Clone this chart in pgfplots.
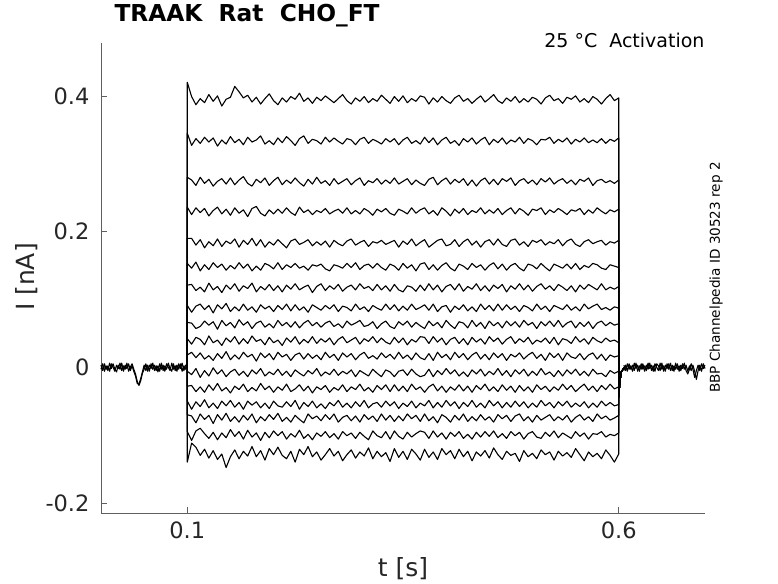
\documentclass[border=0pt]{standalone}
\usepackage{fontspec}
\setmainfont{DejaVu Sans}
\usepackage{pgfplots}
\usepackage{pgfplotstable}
\pgfplotsset{compat=1.18}
\definecolor{axgray}{RGB}{95,95,95}
\definecolor{txtgray}{RGB}{38,38,38}

% current (pA) during the step, 17 sweeps
\pgfplotstableread{
t a b c d e f g h i j k l m n o p q
0.100 0 0 0 0 0 0 0 0 0 0 0 0 0 0 0 0 0
0.100 420 345 280 236 190 153 121 91 66 42 18 -6 -28 -50 -70 -95 -140
0.105 399 327 276 225 190 146 122 81 65 34 22 -11 -27 -62 -72 -108 -112
0.110 387 337 268 235 180 155 113 90 57 44 14 -2 -36 -51 -82 -94 -118
0.115 396 330 280 228 188 142 118 93 60 41 21 -15 -29 -58 -69 -90 -130
0.120 390 339 271 234 176 151 111 85 68 33 12 -5 -37 -48 -77 -98 -121
0.125 402 332 277 223 185 144 124 91 62 46 17 -13 -26 -60 -71 -105 -134
0.130 392 338 267 231 179 154 114 80 67 36 10 -1 -34 -53 -83 -96 -123
0.135 400 326 274 236 189 147 119 92 56 40 20 -10 -24 -61 -70 -107 -136
0.140 385 335 278 226 178 152 110 86 69 32 13 -4 -35 -50 -78 -97 -128
0.145 395 329 270 233 186 143 121 94 61 43 23 -14 -30 -57 -68 -104 -148
0.150 398 340 279 224 182 150 115 82 66 37 11 -7 -38 -49 -80 -92 -132
0.155 414 331 269 235 189 145 123 89 58 45 18 -3 -28 -59 -73 -102 -122
0.160 406 336 276 227 177 154 112 83 70 34 12 -12 -33 -52 -81 -95 -135
0.165 397 328 281 232 187 146 120 93 62 42 22 -6 -25 -62 -71 -106 -124
0.170 401 339 271 222 181 152 116 84 67 35 15 -14 -36 -50 -78 -93 -131
0.175 391 332 267 234 190 142 124 89 57 46 19 -4 -30 -56 -69 -103 -117
0.180 398 335 277 237 179 149 111 81 65 38 9 -10 -35 -51 -82 -97 -132
0.185 388 341 272 227 188 143 119 92 68 41 21 -2 -24 -60 -73 -108 -123
0.190 396 329 279 223 177 153 114 86 59 33 14 -13 -33 -53 -79 -96 -137
0.195 403 334 268 232 185 150 122 90 64 44 20 -7 -28 -61 -70 -104 -120
0.200 393 328 275 226 180 145 113 82 58 36 11 -11 -37 -50 -77 -94 -129
0.205 387 338 280 233 188 154 120 91 69 40 22 -3 -29 -57 -68 -101 -118
0.210 397 331 269 227 182 144 111 85 61 32 15 -12 -34 -59 -80 -95 -130
0.215 391 340 276 235 176 151 121 93 66 43 19 -6 -25 -51 -74 -106 -135
0.220 399 334 271 228 186 147 115 83 59 37 10 -14 -36 -58 -81 -98 -124
0.225 395 327 279 224 189 153 123 92 67 45 18 -4 -32 -49 -71 -103 -140
0.230 404 337 272 236 181 146 114 84 58 34 21 -9 -26 -62 -77 -93 -121
0.235 392 341 267 228 184 149 118 89 65 41 12 -13 -35 -52 -82 -105 -129
0.240 397 330 277 232 188 143 121 81 69 36 20 -5 -28 -58 -69 -99 -117
0.245 389 336 270 225 179 151 110 92 61 45 13 -10 -38 -50 -76 -107 -132
0.250 398 334 280 231 185 149 119 88 66 35 18 -2 -29 -60 -72 -97 -125
0.255 393 329 271 228 180 152 123 84 59 42 11 -13 -33 -54 -79 -102 -137
0.260 400 339 275 234 186 145 113 91 65 37 22 -7 -27 -61 -70 -95 -129
0.265 395 332 268 226 177 142 120 86 68 43 14 -11 -37 -52 -77 -104 -120
0.270 390 338 278 230 187 151 115 92 60 33 19 -3 -30 -57 -69 -98 -131
0.275 396 333 270 233 182 149 122 82 64 41 10 -12 -34 -49 -81 -106 -124
0.280 402 329 274 227 179 146 112 90 58 45 21 -6 -26 -59 -74 -95 -138
0.285 393 337 278 235 186 153 118 88 68 36 15 -10 -36 -53 -71 -101 -129
0.290 388 335 269 226 189 147 121 83 62 40 20 -4 -29 -60 -79 -97 -122
0.295 397 328 275 231 180 154 114 93 65 44 11 -14 -33 -51 -72 -105 -134
0.300 392 336 279 226 184 144 123 85 69 34 18 -5 -25 -58 -81 -96 -125
0.305 399 339 268 234 187 150 116 89 60 42 22 -9 -35 -49 -70 -102 -131
0.310 390 330 275 230 178 152 119 82 62 38 13 -13 -30 -60 -77 -107 -119
0.315 396 336 272 224 185 146 113 91 67 45 17 -3 -37 -54 -72 -94 -135
0.320 392 333 278 233 183 153 122 87 57 36 12 -9 -27 -52 -80 -101 -124
0.325 401 329 270 229 187 147 114 84 64 43 21 -14 -33 -59 -69 -104 -132
0.330 395 337 276 234 181 143 120 93 68 37 14 -4 -26 -50 -78 -95 -126
0.335 389 332 271 227 184 152 112 85 60 34 19 -7 -36 -57 -71 -106 -139
0.340 399 337 279 224 187 149 122 92 57 44 12 -14 -26 -51 -80 -94 -120
0.345 392 328 270 233 177 143 114 83 67 36 22 -6 -35 -61 -72 -102 -133
0.350 400 335 274 230 186 153 111 90 62 43 13 -4 -28 -53 -79 -106 -124
0.355 390 339 278 226 181 146 120 84 68 33 18 -12 -36 -58 -69 -96 -136
0.360 396 330 269 235 189 151 118 93 59 41 11 -3 -25 -50 -76 -103 -121
0.365 392 334 276 227 179 142 112 85 66 37 21 -10 -33 -60 -71 -98 -128
0.370 400 329 271 232 184 152 121 88 61 45 14 -14 -29 -53 -80 -94 -137
0.375 398 339 268 235 188 154 113 92 57 44 11 -12 -37 -57 -69 -96 -121
0.380 388 331 277 226 177 144 123 84 68 35 20 -3 -29 -49 -79 -105 -133
0.385 397 338 280 231 182 151 114 93 61 45 10 -14 -25 -60 -73 -94 -125
0.390 391 328 269 224 187 143 121 82 66 37 22 -5 -35 -52 -82 -103 -136
0.395 399 335 275 235 189 150 111 89 58 43 14 -11 -28 -59 -70 -97 -120
0.400 393 339 279 230 179 154 119 91 69 33 19 -2 -37 -49 -74 -106 -129
0.405 389 330 270 223 181 146 122 81 62 41 11 -10 -29 -57 -81 -96 -123
0.410 397 334 277 233 188 142 114 90 57 44 22 -4 -34 -51 -71 -102 -135
0.415 401 327 272 227 178 152 123 85 67 35 14 -13 -26 -61 -78 -95 -121
0.420 392 337 278 234 185 149 112 92 65 42 20 -7 -35 -52 -69 -105 -132
0.425 396 332 268 225 189 144 119 83 58 33 11 -14 -28 -58 -80 -99 -124
0.430 389 338 276 231 180 153 115 89 69 44 18 -4 -37 -49 -73 -106 -138
0.435 395 329 267 228 186 147 123 82 60 37 22 -10 -27 -59 -79 -96 -125
0.440 400 335 275 235 177 151 113 93 66 42 12 -3 -33 -53 -70 -103 -131
0.445 391 339 279 226 185 143 120 85 57 34 19 -13 -25 -60 -78 -95 -123
0.450 396 328 270 232 188 150 112 91 68 45 11 -6 -35 -49 -73 -102 -134
0.455 402 336 277 227 180 154 121 83 61 38 21 -11 -29 -57 -81 -94 -119
0.460 393 331 269 234 189 145 116 93 66 43 14 -2 -36 -51 -70 -104 -129
0.465 389 338 278 225 181 152 122 84 58 34 20 -12 -26 -60 -76 -98 -136
0.470 397 329 274 231 178 143 111 92 68 41 10 -5 -34 -52 -71 -105 -124
0.475 392 335 279 235 187 150 120 85 61 45 19 -14 -28 -59 -80 -95 -130
0.480 399 332 268 226 189 153 115 90 67 35 15 -4 -37 -50 -72 -101 -127
0.485 390 339 275 234 180 146 123 82 59 42 21 -10 -27 -58 -69 -96 -139
0.490 396 330 278 230 185 142 114 91 69 37 12 -3 -35 -51 -79 -106 -123
0.495 391 337 271 224 178 152 121 88 62 44 18 -13 -29 -60 -73 -98 -132
0.500 398 334 276 233 187 150 112 83 66 34 22 -6 -37 -53 -81 -95 -127
0.505 395 328 269 231 184 145 119 93 57 40 13 -12 -26 -59 -71 -103 -135
0.510 388 336 278 235 188 153 123 85 67 37 19 -2 -33 -49 -78 -105 -122
0.515 397 335 273 225 180 147 115 90 61 43 10 -11 -28 -57 -74 -96 -129
0.520 401 339 279 232 185 142 120 82 68 35 21 -7 -36 -52 -70 -102 -125
0.525 393 330 270 228 182 152 113 91 60 44 14 -14 -29 -60 -79 -94 -137
0.530 396 336 275 234 188 149 122 88 69 33 20 -5 -34 -51 -73 -104 -124
0.535 389 332 278 230 179 146 118 85 59 42 10 -13 -25 -57 -78 -97 -131
0.540 398 338 271 225 186 152 113 92 65 40 21 -4 -33 -50 -71 -101 -126
0.545 395 329 276 232 189 145 120 84 68 35 15 -10 -27 -59 -81 -105 -133
0.550 400 336 269 230 181 153 111 89 58 45 13 -3 -36 -53 -74 -95 -120
0.555 391 332 277 234 178 144 121 83 66 37 20 -12 -30 -58 -70 -102 -129
0.560 396 338 274 225 185 150 115 93 60 42 11 -6 -25 -51 -78 -97 -138
0.565 390 331 279 232 188 147 122 86 67 34 18 -13 -34 -60 -73 -106 -125
0.570 399 335 268 227 182 153 118 90 57 44 21 -3 -28 -53 -80 -98 -132
0.575 395 331 275 235 185 151 114 93 65 39 12 -10 -36 -59 -69 -99 -127
0.580 388 337 277 230 187 146 123 85 68 36 19 -9 -27 -50 -76 -95 -135
0.585 396 330 272 226 180 144 114 88 61 43 10 -14 -33 -57 -72 -103 -122
0.590 402 336 275 232 185 151 118 84 66 38 18 -5 -25 -52 -78 -99 -130
0.595 393 333 271 229 183 149 115 89 62 40 15 -9 -32 -57 -75 -101 -140
0.600 397 338 276 233 187 147 119 87 64 36 17 -6 -29 -55 -71 -97 -128
0.600 -44 -44 -44 -44 -44 -44 -44 -44 -44 -44 -44 -44 -44 -44 -44 -44 -44
0.6015 -20 -20 -20 -20 -20 -20 -20 -20 -20 -20 -20 -20 -20 -20 -20 -20 -20
0.603 -7 -7 -7 -7 -7 -7 -7 -7 -7 -7 -7 -7 -7 -7 -7 -7 -7
0.606 -1 -1 -1 -1 -1 -1 -1 -1 -1 -1 -1 -1 -1 -1 -1 -1 -1
}\steps

\begin{document}
\begin{tikzpicture}
\useasboundingbox (0,0) rectangle (778pt,583pt);
\begin{axis}[
  at={(101pt,70pt)}, anchor=south west,
  scale only axis, width=604pt, height=470pt,
  xmin=0, xmax=0.7, ymin=-215, ymax=478,
  axis x line=bottom, axis y line=left,
  axis line style={-, draw=axgray, line width=0.6pt},
  tick style={draw=axgray, line width=0.6pt},
  tick align=inside, major tick length=6pt,
  xtick={0.1,0.6}, xticklabels={0.1,0.6},
  ytick={-200,0,200,400}, yticklabels={-0.2,0,0.2,0.4},
  ticklabel style={font=\fontsize{22.5}{23}\selectfont, text=txtgray},
  yticklabel style={xshift=-8pt},
  xticklabel style={yshift=-5pt},
  xlabel={t [s]},
  xlabel style={at={(axis description cs:0.5,-0.119)}, anchor=center,
    font=\fontsize{25}{26}\selectfont, text=txtgray},
  ylabel={I [nA]},
  ylabel style={at={(axis description cs:-0.1225,0.502)}, anchor=center,
    font=\fontsize{25}{26}\selectfont, text=txtgray},
  title={TRAAK\ \ Rat\ \ CHO\_FT},
  title style={at={(axis description cs:0.0166,1.034)}, anchor=base west,
    font=\bfseries\fontsize{23.3}{24}\selectfont},
  clip=false,
  trace/.style={black, line width=1.1pt, mark=none, line join=round},
]
% baseline before the step
\addplot[trace] coordinates {(0,3)(0.002,-5)(0.004,5)(0.006,-3)(0.008,2)(0.01,-6)(0.012,5)(0.014,0)(0.016,-6)(0.018,3)(0.02,-2)(0.022,6)(0.024,-5)(0.026,2)(0.028,-3)(0.03,6)(0.032,-6)(0.034,0)(0.036,5)(0.038,-3)(0.04,-10)(0.042,-21)(0.044,-27)(0.046,-20)(0.048,-9)(0.05,-3)(0.052,5)(0.054,-6)(0.056,3)(0.058,-2)(0.06,6)(0.062,-5)(0.064,2)(0.066,-7)(0.068,5)(0.07,-3)(0.072,3)(0.074,-6)(0.076,5)(0.078,0)(0.08,-5)(0.082,6)(0.084,-3)(0.086,2)(0.088,-6)(0.09,5)(0.092,-2)(0.094,6)(0.096,-5)(0.098,3)(0.1,0)};
\addplot[trace] coordinates {(0,-3)(0.002,5)(0.004,-6)(0.006,2)(0.008,-5)(0.01,6)(0.012,-2)(0.014,5)(0.016,-3)(0.018,-7)(0.02,3)(0.022,-3)(0.024,6)(0.026,-6)(0.028,3)(0.03,-2)(0.032,5)(0.034,-5)(0.036,2)(0.038,-6)(0.04,-13)(0.042,-24)(0.044,-25)(0.046,-17)(0.048,-7)(0.05,3)(0.052,-5)(0.054,3)(0.056,-6)(0.058,5)(0.06,-3)(0.062,3)(0.064,-5)(0.066,2)(0.068,-6)(0.07,6)(0.072,-5)(0.074,2)(0.076,-3)(0.078,6)(0.08,-2)(0.082,-6)(0.084,5)(0.086,-5)(0.088,3)(0.09,-3)(0.092,5)(0.094,-6)(0.096,2)(0.098,-3)(0.1,5)};
% sweeps
\pgfplotsinvokeforeach{a,b,c,d,e,f,g,h,i,j,k,l,m,n,o,p,q}{
  \addplot[trace] table[x=t, y=#1] {\steps};
}
% baseline after the step
\addplot[trace] coordinates {(0.606,3)(0.608,-5)(0.61,5)(0.612,-3)(0.614,2)(0.616,-6)(0.618,6)(0.62,-2)(0.622,3)(0.624,-6)(0.626,5)(0.628,-3)(0.63,2)(0.632,-5)(0.634,6)(0.636,-2)(0.638,3)(0.64,-6)(0.642,5)(0.644,0)(0.646,-5)(0.648,6)(0.65,-3)(0.652,2)(0.654,-6)(0.656,5)(0.658,-3)(0.66,6)(0.662,-5)(0.664,2)(0.666,-3)(0.668,5)(0.67,-6)(0.672,3)(0.674,-2)(0.676,6)(0.678,-5)(0.68,-10)(0.682,-3)(0.684,5)(0.686,-3)(0.688,-15)(0.69,-5)(0.692,3)(0.694,-5)(0.696,5)(0.698,-2)(0.7,3)};
\addplot[trace] coordinates {(0.606,-5)(0.608,3)(0.61,-6)(0.612,5)(0.614,-3)(0.616,3)(0.618,-5)(0.62,6)(0.622,-6)(0.624,2)(0.626,-3)(0.628,5)(0.63,-6)(0.632,3)(0.634,-3)(0.636,6)(0.638,-5)(0.64,2)(0.642,-6)(0.644,5)(0.646,2)(0.648,-5)(0.65,6)(0.652,-6)(0.654,3)(0.656,-2)(0.658,5)(0.66,-5)(0.662,3)(0.664,-6)(0.666,6)(0.668,-3)(0.67,2)(0.672,-5)(0.674,5)(0.676,-3)(0.678,3)(0.68,-6)(0.682,2)(0.684,-5)(0.686,3)(0.688,-6)(0.69,-18)(0.692,-5)(0.694,3)(0.696,-6)(0.698,5)(0.7,-2)};
\node[anchor=base east, font=\fontsize{19}{20}\selectfont, text=black]
  at (axis description cs:1.005,0.991) {25 °C\ \ Activation};
\node[rotate=90, anchor=base, font=\fontsize{13.6}{14}\selectfont, text=black]
  at (axis description cs:1.0248,0.501) {BBP Channelpedia ID 30523 rep 2};
\end{axis}
\end{tikzpicture}
\end{document}
